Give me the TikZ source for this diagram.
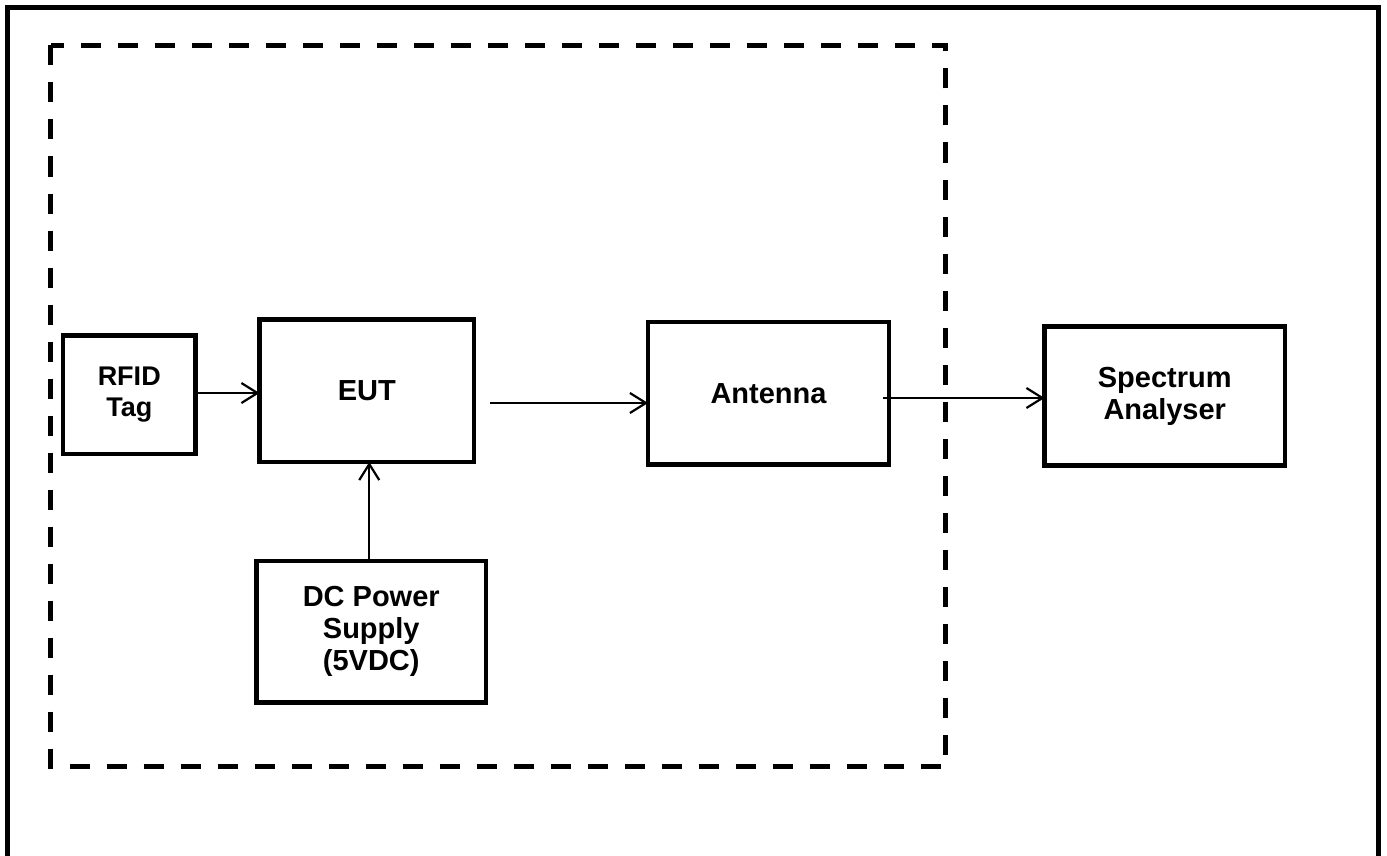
\documentclass[tikz,border=0pt]{standalone}
\usepackage{fontspec}
\setmainfont{Liberation Sans}
\usetikzlibrary{arrows.meta,calc}

\tikzset{
  block/.style={draw, line width=4.5pt, outer sep=0pt, inner sep=2pt,
    align=center, font=\bfseries\fontsize{29}{32}\selectfont},
  smallblock/.style={block, font=\bfseries\fontsize{27}{31}\selectfont},
  arr/.style={line width=2pt,
    -{Straight Barb[length=16pt,width=20pt,line width=2.2pt]}},
  setupframe/.style={line width=5pt, dash pattern=on 20pt off 17pt},
  outerframe/.style={line width=5pt}
}

\begin{document}
\begin{tikzpicture}[x=1pt,y=-1pt]
  \useasboundingbox (0,0) rectangle (1387,856);

  % page frame (its lower edge runs past the page)
  \draw[outerframe] (7,900) -- (7,7.5) -- (1378,7.5) -- (1378,900);

  % test set-up enclosure
  \draw[setupframe] (50.5,45.5) rectangle (945.5,766.5);

  % equipment
  \node[smallblock, minimum width=132.5pt, minimum height=118.5pt]
    (rfid) at (129.25,394.75) {RFID\\Tag};
  \node[block, minimum width=214.5pt, minimum height=142.5pt]
    (eut) at (366.75,390.75) {EUT};
  \node[block, minimum width=241pt, minimum height=142.5pt]
    (ant) at (768.5,393.25) {Antenna};
  \node[block, minimum width=240.5pt, minimum height=139pt]
    (sa) at (1164.75,396) {Spectrum\\Analyser};
  \node[block, minimum width=229.5pt, minimum height=141.5pt]
    (dc) at (371.25,631.75) {DC Power\\Supply\\(5VDC)};

  % signal paths
  \coordinate (r1) at ($(rfid.east)+(0,-1.75)$);
  \draw[arr] (r1) -- (r1 -| eut.west);

  \coordinate (e1) at ($(eut.east)+(16,12.25)$);
  \draw[arr] (e1) -- (e1 -| ant.west);

  \coordinate (a1) at ($(ant.east)+(-6,4.75)$);
  \draw[arr] (a1) -- (a1 -| sa.west);

  \coordinate (d1) at ($(dc.north)+(-2,0)$);
  \draw[arr] (d1) -- (d1 |- eut.south);
\end{tikzpicture}
\end{document}
